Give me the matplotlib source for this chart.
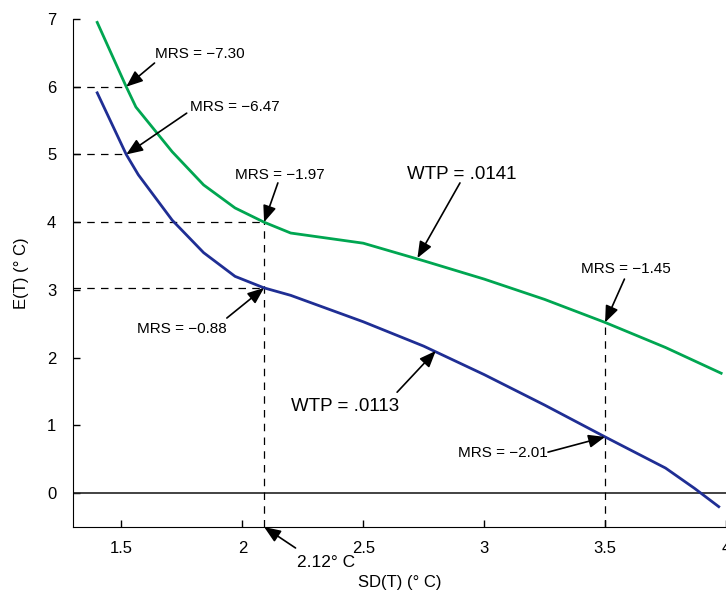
import matplotlib
matplotlib.use("Agg")
import matplotlib.pyplot as plt

plt.rcParams['font.family'] = ['Liberation Sans', 'DejaVu Sans']

# Curves
sd_high = [1.40, 1.52, 1.56, 1.71, 1.84, 1.97, 2.09, 2.20, 2.50, 2.75, 3.00, 3.25, 3.50, 3.75, 3.98]
et_high = [6.95, 6.00, 5.70, 5.04, 4.55, 4.21, 4.00, 3.84, 3.69, 3.43, 3.16, 2.86, 2.52, 2.15, 1.77]

sd_low = [1.40, 1.52, 1.57, 1.71, 1.84, 1.97, 2.09, 2.20, 2.50, 2.75, 3.00, 3.25, 3.50, 3.75, 3.87, 3.97]
et_low = [5.91, 5.00, 4.70, 4.03, 3.55, 3.20, 3.03, 2.92, 2.53, 2.17, 1.75, 1.30, 0.83, 0.37, 0.07, -0.20]

# annotations: label, text pos, arrow tail, arrow tip, fontsize
labels = ["MRS = \u22127.30", "MRS = \u22126.47", "MRS = \u22121.97", "MRS = \u22120.88",
          "WTP = .0141", "WTP = .0113", "MRS = \u22121.45", "MRS = \u22122.01", "2.12\u00b0 C"]
text_xy = [(1.824, 6.48), (1.969, 5.70), (2.156, 4.70), (1.749, 2.42),
           (2.907, 4.70), (2.425, 1.285), (3.587, 3.31), (3.077, 0.59), (2.346, -1.03)]
tail_xy = [(1.637, 6.35), (1.77, 5.61), (2.147, 4.58), (1.936, 2.585),
           (2.90, 4.58), (2.64, 1.49), (3.58, 3.16), (3.264, 0.605), (2.22, -0.81)]
tip_xy = [(1.52, 6.0), (1.52, 5.0), (2.09, 4.0), (2.09, 3.03),
          (2.724, 3.47), (2.80, 2.10), (3.5, 2.52), (3.5, 0.83), (2.09, -0.5)]
sizes = [11, 11, 11, 11, 13.5, 13.5, 11, 11, 12.5]

# dashed guide lines: (x0, x1, y0, y1)
guides = [(1.3, 1.52, 6.0, 6.0), (1.3, 1.52, 5.0, 5.0), (1.3, 2.09, 4.0, 4.0), (1.3, 2.09, 3.03, 3.03),
          (2.09, 2.09, -0.5, 4.0), (3.5, 3.5, -0.5, 2.52)]

fig = plt.figure(figsize=(7.26, 5.9), dpi=100)
ax = fig.add_axes([0.1006, 0.1068, 0.8994, 0.861])

ax.axhline(0, color='#222222', lw=1.2)
for x0, x1, y0, y1 in guides:
    ax.plot([x0, x1], [y0, y1], color='k', lw=0.9, dashes=(6, 5))

ax.plot(sd_high, et_high, color='#00a651', lw=2)
ax.plot(sd_low, et_low, color='#1f2e94', lw=2)

for lab, txy, tail, tip, fs in zip(labels, text_xy, tail_xy, tip_xy, sizes):
    ax.text(txy[0], txy[1], lab, fontsize=fs, ha='center', va='center', clip_on=False)
    ax.annotate('', xy=tip, xytext=tail, annotation_clip=False,
                arrowprops=dict(arrowstyle='-|>,head_length=1.0,head_width=0.4',
                                color='k', lw=1.2, shrinkA=0, shrinkB=0))

ax.set_xlim(1.3, 4.0)
ax.set_ylim(-0.5, 7)
ax.set_xticks([1.5, 2, 2.5, 3, 3.5, 4])
ax.set_xticklabels(['1.5', '2', '2.5', '3', '3.5', '4'])
ax.set_yticks(range(0, 8))
ax.tick_params(direction='in', length=5, width=1, labelsize=12)
ax.tick_params(axis='y', pad=12)
ax.tick_params(axis='x', pad=10)
ax.spines['top'].set_visible(False)
ax.spines['right'].set_visible(False)
ax.set_xlabel('SD(T) (\u00b0 C)', fontsize=12, labelpad=14)
ax.set_ylabel('E(T) (\u00b0 C)', fontsize=12, labelpad=13)

fig.savefig('out.png', dpi=100)
